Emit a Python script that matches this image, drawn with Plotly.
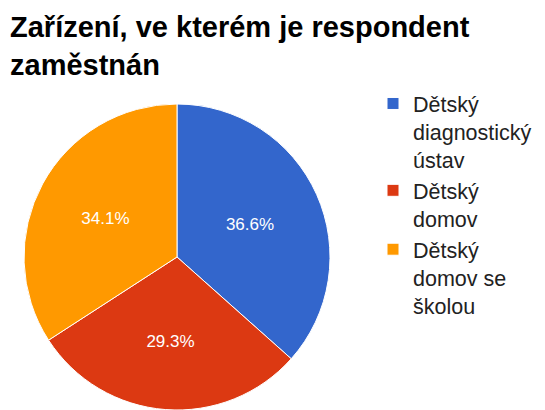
import plotly.graph_objects as go

categories = ["Dětský<br>diagnostický<br>ústav", "Dětský<br>domov", "Dětský<br>domov se<br>školou"]
counts = [15, 12, 14]
colors = ["#3366CC", "#DC3912", "#FF9900"]
title_text = "Zařízení, ve kterém je respondent<br>zaměstnán"

W, H = 545, 410
cx, cy, r = 177, 257, 153

fig = go.Figure(go.Pie(
    labels=categories,
    values=counts,
    sort=False,
    direction="clockwise",
    rotation=0,
    marker=dict(colors=colors, line=dict(color="white", width=1)),
    texttemplate="%{percent:.1%}",
    textposition="inside",
    insidetextorientation="horizontal",
    textfont=dict(color="white", size=17, family="Arial, Liberation Sans, sans-serif"),
    hoverinfo="label+percent",
    domain=dict(x=[(cx - r) / W, (cx + r) / W], y=[(H - cy - r) / H, (H - cy + r) / H]),
))

fig.update_layout(
    width=W, height=H,
    margin=dict(l=0, r=0, t=0, b=0),
    paper_bgcolor="white",
    font=dict(family="Arial, Liberation Sans, sans-serif"),
    title=dict(
        text="<b>" + title_text + "</b>",
        x=10 / W, xanchor="left", xref="container",
        y=1 - 37 / H, yanchor="top", yref="container",
        font=dict(size=29, color="black"),
    ),
    legend=dict(
        x=373 / W, xanchor="left",
        y=1 - 83 / H, yanchor="top",
        valign="top",
        font=dict(size=21.5, color="#222222"),
        traceorder="normal",
    ),
    showlegend=True,
)

fig.write_html("out.html")
